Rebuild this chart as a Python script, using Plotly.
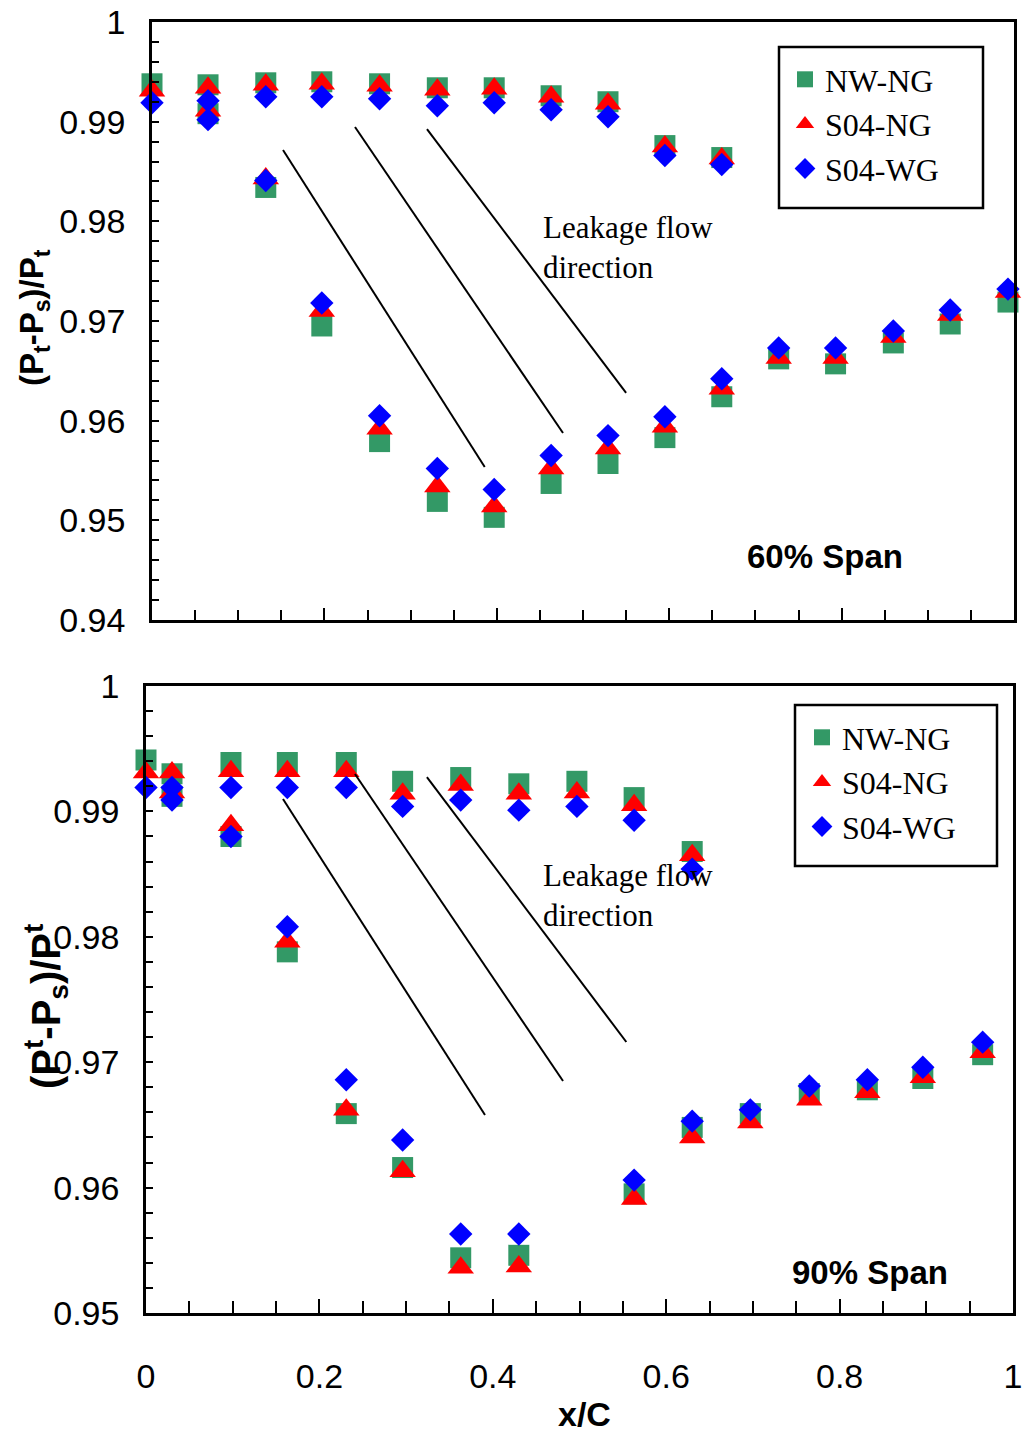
import plotly.graph_objects as go

W, H = 1029, 1437

# ---------------- data: 60% span (top) ----------------
x60 = [0.000, 0.065, 0.132, 0.197, 0.264, 0.331, 0.397, 0.463, 0.529, 0.595, 0.661,
       0.065, 0.132, 0.197, 0.264, 0.331, 0.397, 0.463, 0.529, 0.595, 0.661, 0.727, 0.793, 0.860, 0.926, 0.993]
nwng60 = [0.9938, 0.9937, 0.9939, 0.9940, 0.9938, 0.9934, 0.9934, 0.9926, 0.9920, 0.9876, 0.9864,
          0.9908, 0.9834, 0.9695, 0.9579, 0.9519, 0.9503, 0.9537, 0.9557, 0.9583, 0.9624, 0.9662, 0.9657, 0.9678, 0.9697, 0.9719]
s04ng60 = [0.9931, 0.9934, 0.9937, 0.9938, 0.9936, 0.9932, 0.9933, 0.9925, 0.9918, 0.9875, 0.9863,
           0.9911, 0.9843, 0.9710, 0.9592, 0.9534, 0.9514, 0.9552, 0.9572, 0.9594, 0.9632, 0.9663, 0.9663, 0.9684, 0.9706, 0.9729]
s04wg60 = [0.9919, 0.9921, 0.9925, 0.9925, 0.9923, 0.9916, 0.9919, 0.9912, 0.9905, 0.9866, 0.9857,
           0.9902, 0.9841, 0.9718, 0.9605, 0.9552, 0.9531, 0.9565, 0.9585, 0.9604, 0.9642, 0.9673, 0.9673, 0.9690, 0.9711, 0.9732]

# ---------------- data: 90% span (bottom) ----------------
x90 = [0.000, 0.030, 0.098, 0.163, 0.231, 0.296, 0.363, 0.430, 0.497, 0.563, 0.630,
       0.030, 0.098, 0.163, 0.231, 0.296, 0.363, 0.430, 0.563, 0.630, 0.697, 0.765, 0.832, 0.896, 0.965]
nwng90 = [0.9941, 0.9930, 0.9939, 0.9939, 0.9939, 0.9924, 0.9927, 0.9922, 0.9924, 0.9911, 0.9868,
          0.9912, 0.9880, 0.9788, 0.9659, 0.9616, 0.9544, 0.9546, 0.9595, 0.9648, 0.9659, 0.9675, 0.9678, 0.9687, 0.9706]
s04ng90 = [0.9931, 0.9931, 0.9932, 0.9932, 0.9932, 0.9914, 0.9921, 0.9914, 0.9915, 0.9905, 0.9865,
           0.9915, 0.9889, 0.9796, 0.9662, 0.9613, 0.9536, 0.9537, 0.9591, 0.9640, 0.9652, 0.9670, 0.9676, 0.9688, 0.9708]
s04wg90 = [0.9919, 0.9919, 0.9919, 0.9919, 0.9919, 0.9904, 0.9909, 0.9901, 0.9904, 0.9893, 0.9854,
           0.9909, 0.9880, 0.9808, 0.9686, 0.9638, 0.9563, 0.9563, 0.9606, 0.9653, 0.9662, 0.9681, 0.9686, 0.9696, 0.9716]

series_names = ["NW-NG", "S04-NG", "S04-WG"]

# tick labels
x_tickvals = [0, 0.2, 0.4, 0.6, 0.8, 1.0]
x_ticktext = ["0", "0.2", "0.4", "0.6", "0.8", "1"]
y60_tickvals = [0.94, 0.95, 0.96, 0.97, 0.98, 0.99, 1.0]
y60_ticktext = ["0.94", "0.95", "0.96", "0.97", "0.98", "0.99", "1"]
y90_tickvals = [0.95, 0.96, 0.97, 0.98, 0.99, 1.0]
y90_ticktext = ["0.95", "0.96", "0.97", "0.98", "0.99", "1"]

# leakage-direction guide lines (data coordinates)
lines60 = [((0.152, 0.98716), (0.386, 0.95535)),
           ((0.2355, 0.98946), (0.4768, 0.95876)),
           ((0.319, 0.98926), (0.550, 0.96278))]
lines90 = [((0.158, 0.99099), (0.391, 0.96579)),
           ((0.241, 0.99298), (0.481, 0.96850)),
           ((0.324, 0.99274), (0.554, 0.97161))]

GREEN = "#339966"
RED = "#FF0000"
BLUE = "#0000FF"
styles = [
    dict(symbol="square", color=GREEN, size=21),
    dict(symbol="triangle-up", color=RED, size=23),
    dict(symbol="diamond", color=BLUE, size=18),
]

def px_x(p):
    return p / W

def px_y(p):
    return (H - p) / H

fig = go.Figure()

for (xs, ys_list, xa, ya, lg) in [
    (x60, [nwng60, s04ng60, s04wg60], "x", "y", "legend"),
    (x90, [nwng90, s04ng90, s04wg90], "x2", "y2", "legend2"),
]:
    for name, ys, st in zip(series_names, ys_list, styles):
        fig.add_trace(go.Scatter(
            x=xs, y=ys, mode="markers", name=name,
            xaxis=xa, yaxis=ya, legend=lg, cliponaxis=False,
            marker=dict(symbol=st["symbol"], color=st["color"], size=st["size"],
                        line=dict(width=0)),
        ))

axis_common = dict(showline=True, linecolor="black", linewidth=2.5, mirror=True,
                   showgrid=False, zeroline=False, ticks="inside", tickcolor="black",
                   tickwidth=2, automargin=False)

tickfont = dict(family="Liberation Sans, Arial", size=34, color="black")
legfont = dict(family="Liberation Serif, Times New Roman", size=32, color="black")

fig.update_layout(
    width=W, height=H,
    margin=dict(l=0, r=0, t=0, b=0, pad=0, autoexpand=False),
    paper_bgcolor="white", plot_bgcolor="white",
    showlegend=True,
    xaxis=dict(domain=[px_x(152), px_x(1014)], range=[0, 1], anchor="y",
               tickmode="array", tickvals=x_tickvals, showticklabels=False, ticklen=12,
               minor=dict(dtick=0.05, tick0=0, ticks="inside", ticklen=10, tickwidth=2, tickcolor="black"),
               **axis_common),
    yaxis=dict(domain=[px_y(620), px_y(22)], range=[0.94, 1.0], anchor="x",
               tickmode="array", tickvals=y60_tickvals, ticktext=y60_ticktext, ticklen=7,
               tickfont=tickfont, ticklabelstandoff=17,
               minor=dict(dtick=0.002, tick0=0.94, ticks="inside", ticklen=7, tickwidth=2, tickcolor="black"),
               **axis_common),
    xaxis2=dict(domain=[px_x(146), px_x(1013)], range=[0, 1], anchor="y2",
                tickmode="array", tickvals=x_tickvals, ticktext=x_ticktext, ticklen=14,
                tickfont=tickfont, ticklabelstandoff=31,
                minor=dict(dtick=0.05, tick0=0, ticks="inside", ticklen=12, tickwidth=2, tickcolor="black"),
                **axis_common),
    yaxis2=dict(domain=[px_y(1313), px_y(686)], range=[0.95, 1.0], anchor="x2",
                tickmode="array", tickvals=y90_tickvals, ticktext=y90_ticktext, ticklen=7,
                tickfont=tickfont, ticklabelstandoff=17,
                minor=dict(dtick=0.002, tick0=0.95, ticks="inside", ticklen=7, tickwidth=2, tickcolor="black"),
                **axis_common),
    legend=dict(x=px_x(785), y=px_y(52), xanchor="left", yanchor="top",
                bgcolor="rgba(0,0,0,0)", borderwidth=0, font=legfont,
                tracegroupgap=0, itemwidth=30),
    legend2=dict(x=px_x(802), y=px_y(710), xanchor="left", yanchor="top",
                 bgcolor="rgba(0,0,0,0)", borderwidth=0, font=legfont,
                 tracegroupgap=0, itemwidth=30),
)

shapes = []
for (p0, p1) in lines60:
    shapes.append(dict(type="line", xref="x", yref="y", x0=p0[0], y0=p0[1], x1=p1[0], y1=p1[1],
                       line=dict(color="black", width=2)))
for (p0, p1) in lines90:
    shapes.append(dict(type="line", xref="x2", yref="y2", x0=p0[0], y0=p0[1], x1=p1[0], y1=p1[1],
                       line=dict(color="black", width=2)))
# legend frames
shapes.append(dict(type="rect", xref="paper", yref="paper", x0=px_x(779), x1=px_x(983),
                   y0=px_y(208), y1=px_y(47), line=dict(color="black", width=2.5)))
shapes.append(dict(type="rect", xref="paper", yref="paper", x0=px_x(795), x1=px_x(997),
                   y0=px_y(866), y1=px_y(705), line=dict(color="black", width=2.5)))
fig.update_layout(shapes=shapes)

serif = dict(family="Liberation Serif, Times New Roman", size=31, color="black")
boldsans = dict(family="Liberation Sans, Arial", size=33, color="black")

annotations = [
    dict(text="Leakage flow<br>direction", xref="paper", yref="paper", x=px_x(541), y=px_y(247),
         xanchor="left", yanchor="middle", align="left", showarrow=False, font=serif),
    dict(text="Leakage flow<br>direction", xref="paper", yref="paper", x=px_x(541), y=px_y(895),
         xanchor="left", yanchor="middle", align="left", showarrow=False, font=serif),
    dict(text="<b>60% Span</b>", xref="paper", yref="paper", x=px_x(825), y=px_y(556),
         xanchor="center", yanchor="middle", showarrow=False, font=boldsans),
    dict(text="<b>90% Span</b>", xref="paper", yref="paper", x=px_x(870), y=px_y(1272),
         xanchor="center", yanchor="middle", showarrow=False, font=boldsans),
    dict(text="<b>x/C</b>", xref="paper", yref="paper", x=px_x(584), y=px_y(1414),
         xanchor="center", yanchor="middle", showarrow=False,
         font=dict(family="Liberation Sans, Arial", size=34, color="black")),
    dict(text="<b>(P<sub>t</sub>-P<sub>s</sub>)/P<sub>t</sub></b>", xref="paper", yref="paper",
         x=px_x(34), y=px_y(318), xanchor="center", yanchor="middle", textangle=-90,
         showarrow=False, font=dict(family="Liberation Sans, Arial", size=33, color="black")),
    dict(text="<b>(P<sup>t</sup>-P<sub>s</sub>)/P<sup>t</sup></b>", xref="paper", yref="paper",
         x=px_x(46), y=px_y(1007), xanchor="center", yanchor="middle", textangle=-90,
         showarrow=False, font=dict(family="Liberation Sans, Arial", size=40, color="black")),
]
fig.update_layout(annotations=annotations)

fig.write_html("out.html", config={"displayModeBar": False},
               post_script="document.body.style.margin='0';document.body.style.padding='0';")
